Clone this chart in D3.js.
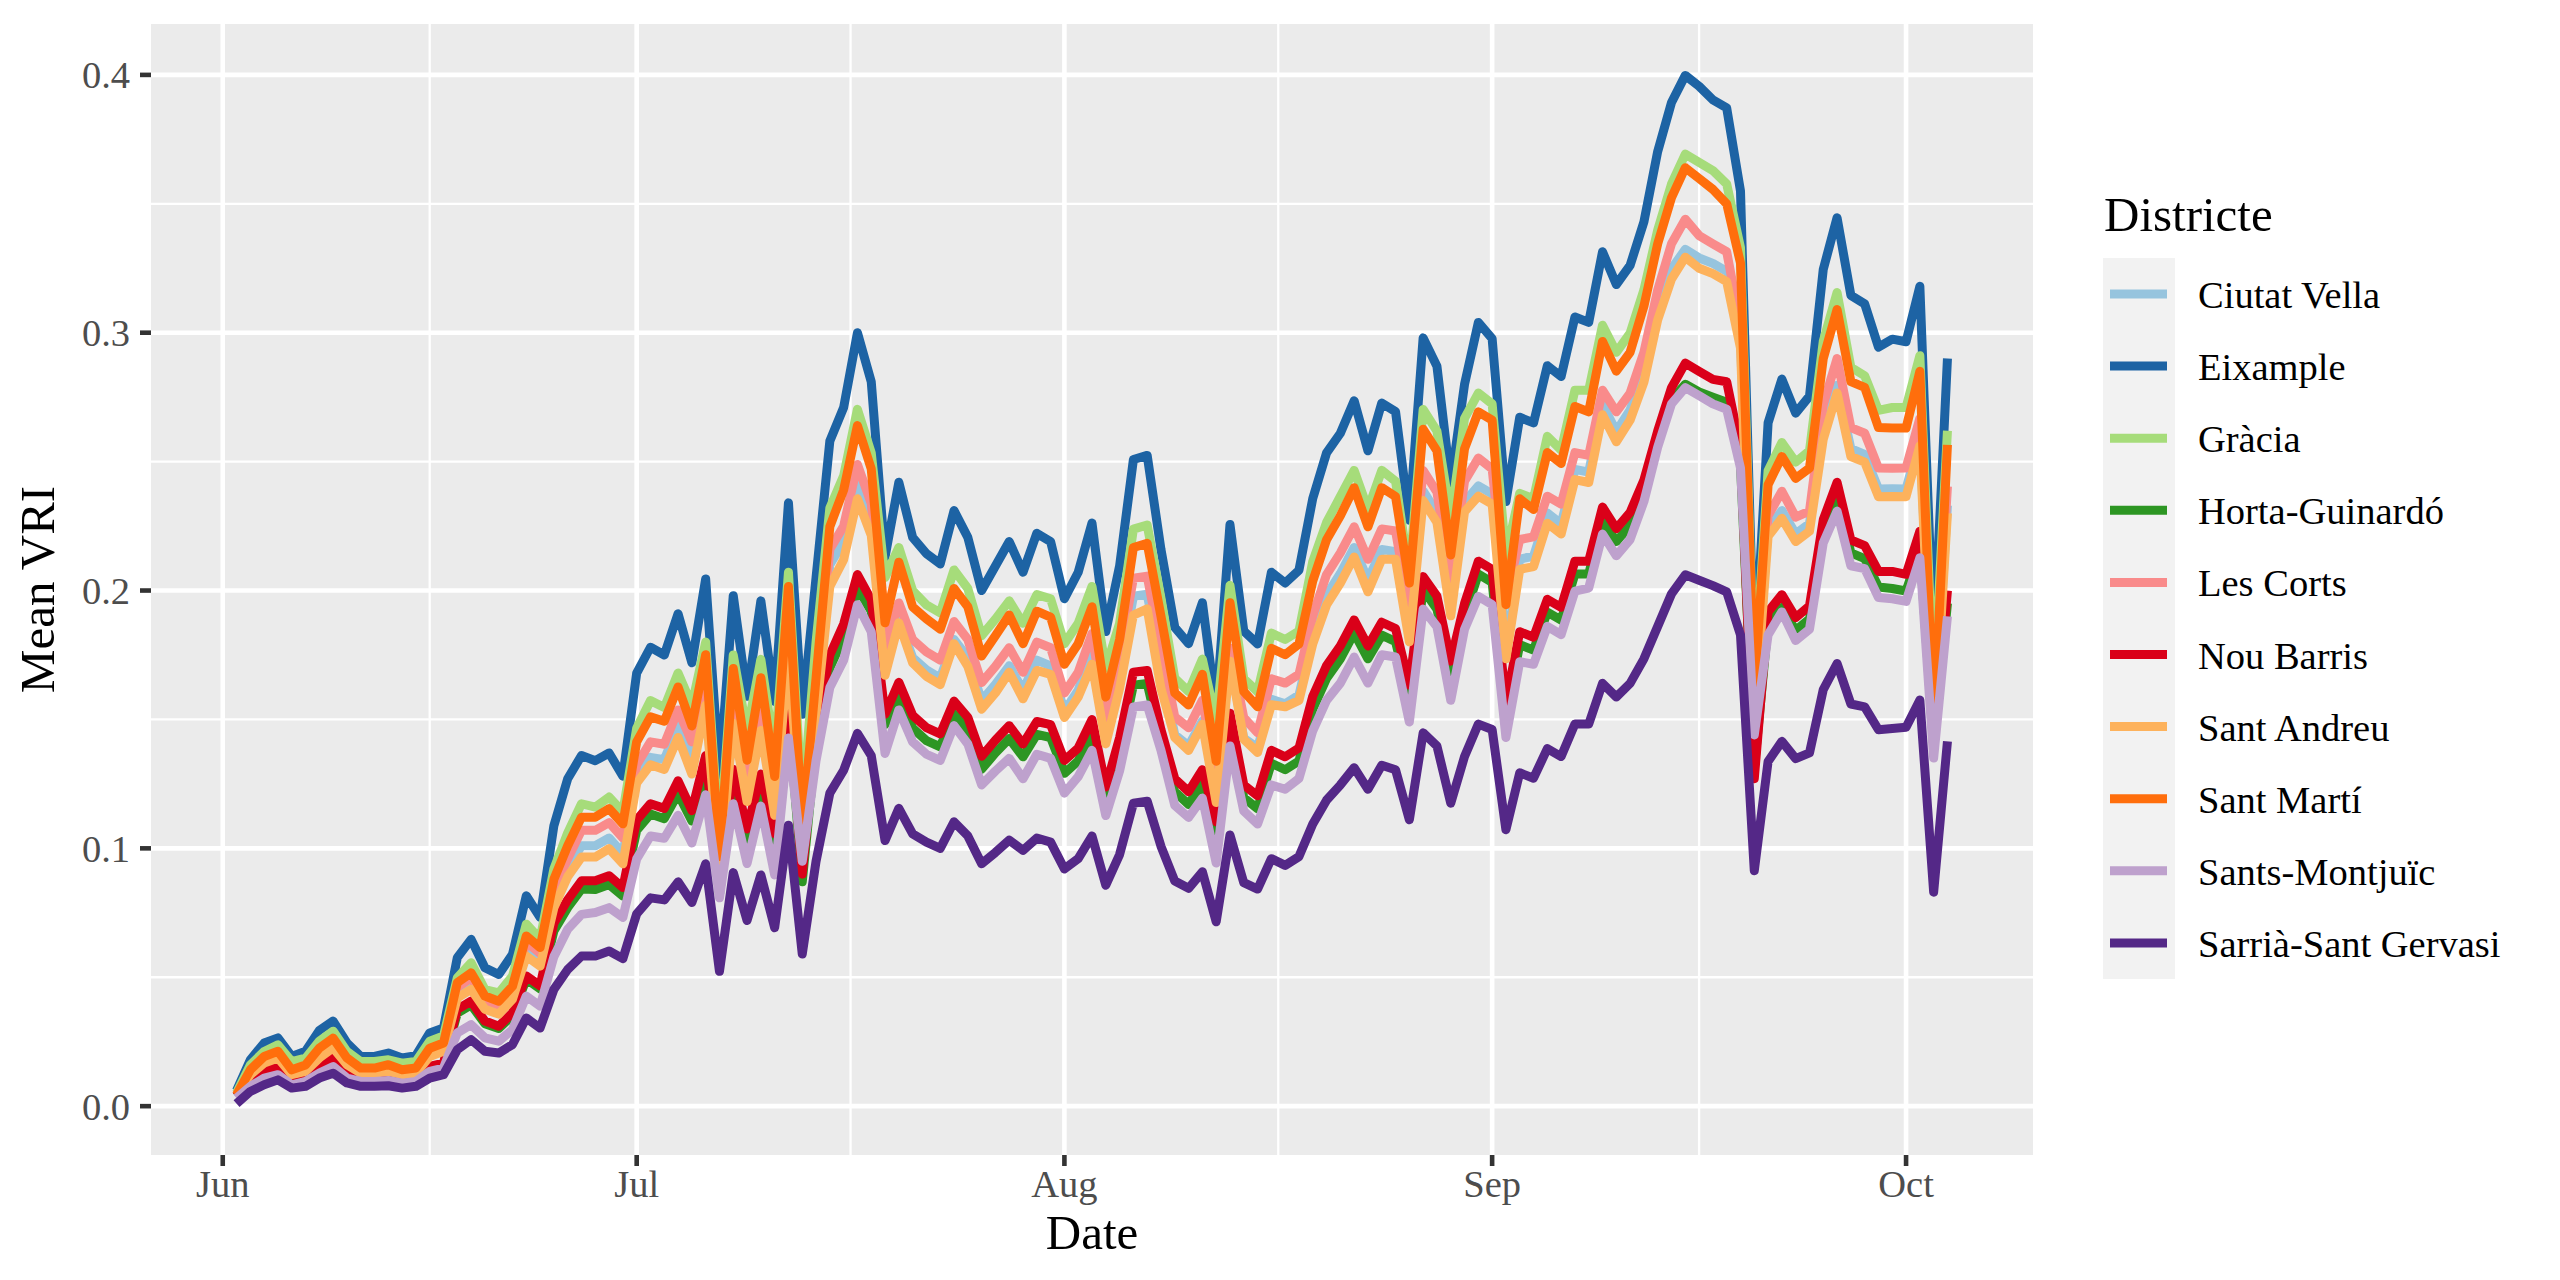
<!DOCTYPE html>
<html><head><meta charset="utf-8">
<script src="https://cdn.jsdelivr.net/npm/d3@7"></script>
<style>html,body{margin:0;padding:0;background:#fff;}svg{display:block;}</style>
</head><body>
<svg id="chart" width="2560" height="1280"></svg>
<script>
// ---- data ----
const startDate = "2021-06-02"; // first daily observation
const districts = ["Ciutat Vella","Eixample","Gràcia","Horta-Guinardó","Les Corts","Nou Barris","Sant Andreu","Sant Martí","Sants-Montjuïc","Sarrià-Sant Gervasi"];
const colors = ["#96C4DE","#1D63A4","#A6DC7A","#2D9623","#F98B8B","#DA0019","#FDB25C","#FF6E0C","#BEA1CD","#542887"];
const yTicks = [0,0.1,0.2,0.3,0.4];
const yTickLabels = ["0.0","0.1","0.2","0.3","0.4"];
const monthLabels = ["Jun","Jul","Aug","Sep","Oct"];

const ciutatVella = [.0044,.0128,.0175,.0195,.0128,.0143,.0198,.0237,.0169,.0134,.0134,.0143,.0128,.0134,.0203,.0223,.0438,.0472,.0391,.0372,.043,.0605,.0565,
.080,.092,.101,.101,.104,.098,
.1264,.1353,.1344,.1477,.1353,.158,.091,.1495,.121,.1495,.116,.181,.102,.156,.210,.219,.243,.228,.172,.189,
.174,.1692,.166,.181,.174,.1573,.1636,.1708,.1613,.173,.1708,.1533,.1613,.1763,.1422,.1676,.1978,.1986,.1708,.144,.1398,
.1494,.122,.1745,.1427,.139,.1578,.1561,.1595,.1822,.1982,.2066,.2167,.2041,.2159,.2151,.1848,.2386,.2302,.1949,.2344,
.2406,.2375,.1775,.2122,.2133,.2301,.2259,.247,.2459,.2722,.2617,.2701,.2848,.309,.3248,.3323,.329,.3269,.3238,
.297,.152,.224,.231,.222,.226,.2617,.2796,.255,.2528,.2394,.2395,.2394,.2592,.144,.233];

const eixample = [0.006,0.018,0.0245,0.0265,0.0193,0.0213,0.0294,0.033,0.0245,0.0193,0.0193,0.0206,0.0187,0.0196,0.0284,0.0303,0.0576,0.0647,0.0537,0.0511,0.0589,0.0816,0.0732,0.1088,0.127,0.136,0.134,0.137,0.128,
0.168,0.178,0.175,0.191,0.172,0.2045,0.128,0.198,0.159,0.196,0.157,0.234,0.152,0.205,0.258,0.271,0.300,0.281,0.213,0.242,
0.2206,0.2143,0.2103,0.231,0.2206,0.200,0.2095,0.219,0.2071,0.2222,0.219,0.1968,0.2071,0.2262,0.1841,0.2095,0.2508,0.2524,0.2159,0.1857,0.1794,
0.1953,0.154,0.2256,0.1843,0.1793,0.2071,0.2029,0.2079,0.2357,0.2534,0.261,0.2736,0.2542,0.2727,0.2694,0.2273,0.298,0.287,0.2416,0.280,
0.304,0.2977,0.2345,0.2672,0.265,0.2872,0.283,0.3061,0.304,0.3314,0.3187,0.3261,0.343,0.3703,0.3893,0.3998,0.3956,0.3903,0.3872,
0.355,0.17,0.265,0.282,0.2688,0.2754,0.3246,0.3446,0.3145,0.3112,0.2944,0.2975,0.2965,0.318,0.178,0.29];

const gracia = [0.0051,0.016,0.0212,0.0238,0.0173,0.0186,0.0252,0.0291,0.0212,0.0173,0.0173,0.018,0.0167,0.0173,0.0252,0.0272,0.0498,0.0556,0.0452,0.0439,0.0504,0.0706,0.0648,0.092,0.106,0.1173,0.116,0.1199,0.1141,
0.1466,0.1573,0.1546,0.168,0.1555,0.180,0.102,0.175,0.145,0.1733,0.137,0.2071,0.1164,0.180,0.232,0.2445,0.2703,0.2534,0.205,0.2167,
0.200,0.1944,0.1913,0.208,0.2008,0.1825,0.1889,0.196,0.1873,0.1984,0.1968,0.1794,0.1873,0.2016,0.1698,0.1873,0.2238,0.2254,0.197,0.166,0.1608,
0.1734,0.149,0.202,0.1658,0.1608,0.1835,0.181,0.1843,0.2113,0.2264,0.2365,0.2466,0.2315,0.2466,0.2424,0.2062,0.2702,0.2618,0.2281,0.2668,
0.2766,0.2724,0.2135,0.2377,0.2356,0.2598,0.2545,0.2777,0.2777,0.3029,0.2924,0.2998,0.3166,0.3398,0.3577,0.3693,0.3661,0.3629,0.3577,
0.333,0.165,0.2465,0.2574,0.2498,0.2542,0.2967,0.3156,0.2866,0.2833,0.2699,0.271,0.271,0.2911,0.16,0.262];

const hortaGuinardo = [.0037,.0098,.0131,.0149,.0094,.0107,.015,.0182,.0125,.0107,.0107,.0113,.01,.0107,.0151,.0164,.0361,.0393,.032,.0301,.0352,.0493,.0455,
.068,.077,.0842,.084,.086,.0815,
.107,.1133,.1115,.1212,.1106,.131,.082,.1266,.1035,.1248,.1017,.152,.087,.141,.170,.182,.201,.192,.148,.160,
.1466,.1418,.1394,.1521,.1458,.1307,.137,.1426,.1355,.1442,.143,.1291,.1339,.145,.1188,.1379,.1633,.164,.141,.122,.117,
.1255,.1053,.1474,.1196,.1154,.133,.1305,.1339,.154,.1659,.1735,.1836,.1735,.1827,.1802,.1583,.2004,.1928,.1676,.19,
.2064,.2032,.1516,.179,.1769,.1916,.1885,.2064,.2064,.2274,.219,.2253,.2379,.257,.274,.280,.277,.275,.273,
.249,.131,.187,.1934,.1845,.189,.2225,.237,.2146,.2124,.2014,.2008,.1998,.216,.14,.195];

const lesCorts = [.0044,.0135,.0185,.0205,.0135,.0152,.0214,.0253,.0179,.0142,.0142,.0153,.0135,.0142,.0215,.0235,.0461,.0498,.0412,.0392,.045,.0637,.0593,
.084,.096,.107,.107,.110,.104,
.1324,.1413,.1404,.1537,.1413,.164,.093,.1555,.127,.1555,.121,.187,.105,.16,.216,.225,.2489,.2338,.178,.1952,
.181,.1762,.173,.188,.181,.1643,.1706,.1778,.1683,.180,.1778,.1603,.1683,.1833,.1492,.1746,.2048,.2056,.1778,.151,.1468,
.1574,.128,.1776,.1507,.1448,.1658,.1641,.1675,.1902,.2062,.2146,.2247,.2121,.2239,.2231,.1928,.2466,.2382,.2029,.2424,
.2514,.2472,.1966,.2198,.2208,.2366,.2335,.2535,.2524,.2777,.2693,.2766,.2924,.3166,.3345,.344,.3377,.3345,.3314,
.303,.155,.229,.2385,.2285,.2308,.2721,.29,.2632,.261,.2475,.2474,.2475,.2668,.15,.2404];

const nouBarris = [.0038,.0102,.0135,.0154,.0096,.0109,.0154,.0187,.0128,.0109,.0109,.0115,.0102,.0109,.0154,.0167,.0375,.0407,.033,.031,.0362,.0505,.0467,
.071,.080,.0874,.0874,.0894,.0848,
.111,.1173,.1155,.1262,.1146,.136,.085,.1306,.1075,.1288,.1057,.157,.09,.145,.175,.187,.2062,.1964,.152,.1644,
.1516,.1468,.1444,.1571,.1508,.1357,.142,.1476,.1405,.1492,.148,.1341,.1389,.150,.1238,.1429,.1683,.169,.146,.127,.122,
.1305,.1103,.1524,.1246,.1204,.138,.1355,.1389,.159,.1709,.1785,.1886,.1785,.1877,.1852,.1633,.2054,.1978,.1726,.195,
.2114,.2082,.1566,.184,.1819,.1966,.1935,.2114,.2114,.2324,.224,.2303,.2429,.2619,.2787,.2882,.285,.2819,.281,
.255,.127,.1917,.1984,.1895,.194,.2275,.242,.2196,.2174,.2074,.2074,.2063,.223,.14,.2];

const santAndreu = [.0044,.0122,.0167,.0187,.0122,.0135,.0187,.0226,.0161,.0128,.0128,.0135,.0122,.0128,.0193,.0213,.042,.0453,.0376,.0357,.0415,.0582,.0543,
.077,.089,.0966,.0966,.0999,.094,
.1253,.1324,.1306,.143,.1288,.1555,.0897,.1484,.1181,.1457,.1128,.177,.10,.152,.2016,.212,.2356,.2214,.1671,.1875,
.172,.1667,.1635,.1794,.1706,.154,.1603,.1683,.158,.169,.1675,.1508,.1587,.1714,.1405,.162,.1905,.1929,.162,.143,.138,
.1481,.1178,.1726,.1423,.1372,.1557,.1549,.1574,.1793,.1944,.2029,.213,.1995,.2121,.2121,.1801,.2349,.2264,.1902,.2306,
.2366,.2335,.1735,.2082,.2093,.2261,.2219,.243,.2419,.2682,.2577,.2661,.2808,.305,.3208,.3293,.325,.3229,.3198,
.294,.149,.221,.228,.219,.223,.2587,.2766,.252,.2498,.2364,.2365,.2364,.2562,.141,.23];

const santMarti = [0.0044,0.0141,0.0193,0.0213,0.0141,0.016,0.0225,0.0264,0.0187,0.0148,0.0148,0.0161,0.0141,0.0148,0.0225,0.0245,0.0479,0.0517,0.0427,0.0407,0.0465,0.066,0.0615,0.088,0.101,0.1121,0.1121,0.1154,0.1095,
0.1413,0.151,0.1493,0.1626,0.1475,0.1751,0.0968,0.1698,0.1342,0.1662,0.1279,0.2016,0.108,0.166,0.2248,0.239,0.264,0.2472,0.1875,0.211,
0.1937,0.189,0.185,0.2008,0.1937,0.1746,0.1825,0.1905,0.1794,0.192,0.1897,0.1714,0.1794,0.1937,0.1587,0.181,0.2167,0.2183,0.190,0.1603,0.1556,
0.1675,0.1338,0.1953,0.1608,0.1549,0.1776,0.1751,0.1793,0.2037,0.2197,0.229,0.2399,0.2247,0.2399,0.2365,0.2029,0.2626,0.2542,0.2138,0.255,
0.2693,0.2661,0.1945,0.2356,0.2314,0.2535,0.2493,0.2714,0.2693,0.2966,0.2851,0.2924,0.3103,0.3345,0.3524,0.364,0.3598,0.3556,0.350,
0.327,0.1615,0.241,0.252,0.2435,0.2475,0.29,0.309,0.281,0.2788,0.2632,0.263,0.263,0.285,0.147,0.2565];

const santsMontjuic = [.0031,.0077,.0109,.0122,.0083,.0096,.0128,.0154,.0109,.0096,.0096,.01,.0089,.0096,.0135,.0148,.0284,.0316,.0265,.0252,.0297,.0427,.0388,
.058,.0686,.0744,.0751,.077,.0732,
.0959,.1048,.1039,.1128,.1021,.1208,.0808,.1173,.0941,.1164,.0897,.1428,.095,.134,.1624,.173,.1945,.184,.1368,.1537,
.1413,.1365,.1341,.1476,.1405,.1246,.130,.1349,.127,.1365,.1349,.1214,.1278,.138,.1127,.13,.1548,.1556,.138,.1167,.112,
.1195,.0943,.1397,.1145,.1094,.1246,.1229,.1271,.1456,.1574,.1641,.1742,.1641,.1751,.1742,.149,.1928,.186,.1574,.185,
.1977,.1945,.143,.1724,.1714,.1861,.1829,.1998,.2009,.2219,.2135,.2198,.2345,.2556,.2724,.2787,.2756,.2724,.2703,
.2475,.144,.1828,.1917,.1806,.185,.2185,.2308,.2096,.2085,.1973,.1968,.1958,.2127,.135,.19];

const sarria = [.001,.0057,.0083,.0102,.007,.0077,.0109,.0128,.009,.0077,.0077,.0079,.007,.0077,.0109,.0122,.0219,.0258,.0213,.0206,.0239,.0342,.0303,.0453,.053,.0582,.0582,.0602,.0572,
.0746,.0808,.080,.087,.079,.094,.0523,.0906,.072,.0897,.0692,.109,.059,.095,.1214,.1303,.1446,.136,.103,.1155,
.1056,.1024,.100,.1103,.1048,.094,.0984,.1032,.0992,.104,.1024,.092,.096,.1048,.0857,.0976,.1175,.1183,.1008,.0873,.0845,
.0909,.0715,.1052,.0867,.0842,.096,.0934,.0968,.1094,.1187,.1246,.1313,.1229,.1322,.1305,.1111,.1448,.1397,.1175,.1356,
.1482,.1461,.1072,.1293,.1272,.1387,.1356,.1482,.1482,.164,.1587,.164,.1735,.1861,.1987,.2061,.204,.2019,.1995,
.1828,.0913,.1337,.1415,.1348,.137,.1616,.1717,.156,.1549,.146,.1465,.147,.1575,.083,.1415];

const seriesValues = [ciutatVella,eixample,gracia,hortaGuinardo,lesCorts,nouBarris,santAndreu,santMarti,santsMontjuic,sarria];

// ---- layout ----
const svg = d3.select("#chart");
const L = 151, R = 2033, T = 24, B = 1155;
const FONT = "'Liberation Serif','Times New Roman',serif";

const n = d3.max(seriesValues, s => s.length);
const t0 = new Date(startDate + "T00:00:00Z");
const dates = d3.range(n).map(i => d3.utcDay.offset(t0, i));

const xSpan = dates[n-1] - dates[0];
const x = d3.scaleUtc()
  .domain([new Date(+dates[0] - 0.05*xSpan), new Date(+dates[n-1] + 0.05*xSpan)])
  .range([L, R]);
const allV = seriesValues.flat();
const vMin = d3.min(allV), vMax = d3.max(allV), vr = vMax - vMin;
const y = d3.scaleLinear().domain([vMin - 0.05*vr, vMax + 0.05*vr]).range([B, T]);

// panel
svg.append("rect").attr("x", L).attr("y", T).attr("width", R-L).attr("height", B-T).attr("fill", "#EBEBEB");

const monthTicks = monthLabels.map((m, i) => new Date(Date.UTC(2021, 5 + i, 1)));
const minorX = [];
for (let i = 0; i < monthTicks.length - 1; i++) minorX.push(new Date((+monthTicks[i] + +monthTicks[i+1]) / 2));
const minorY = [0.05, 0.15, 0.25, 0.35];

const grid = svg.append("g");
minorY.forEach(v => grid.append("line").attr("x1", L).attr("x2", R).attr("y1", y(v)).attr("y2", y(v)).attr("stroke", "#fff").attr("stroke-width", 2.3));
minorX.forEach(d => grid.append("line").attr("x1", x(d)).attr("x2", x(d)).attr("y1", T).attr("y2", B).attr("stroke", "#fff").attr("stroke-width", 2.3));
yTicks.forEach(v => grid.append("line").attr("x1", L).attr("x2", R).attr("y1", y(v)).attr("y2", y(v)).attr("stroke", "#fff").attr("stroke-width", 4.6));
monthTicks.forEach(d => grid.append("line").attr("x1", x(d)).attr("x2", x(d)).attr("y1", T).attr("y2", B).attr("stroke", "#fff").attr("stroke-width", 4.6));

// lines
const lineGen = d3.line().x((v, i) => x(dates[i])).y(v => y(v));
const lines = svg.append("g");
seriesValues.forEach((vals, k) => {
  lines.append("path").datum(vals).attr("d", lineGen)
    .attr("fill", "none").attr("stroke", colors[k]).attr("stroke-width", 9)
    .attr("stroke-linejoin", "round").attr("stroke-linecap", "butt");
});

// y axis
const yAx = svg.append("g");
yTicks.forEach((v, i) => {
  yAx.append("line").attr("x1", L - 11).attr("x2", L).attr("y1", y(v)).attr("y2", y(v)).attr("stroke", "#333333").attr("stroke-width", 4.6);
  yAx.append("text").attr("x", L - 21).attr("y", y(v)).attr("dy", "0.35em").attr("text-anchor", "end")
    .attr("font-family", FONT).attr("font-size", 38.5).attr("fill", "#4D4D4D").text(yTickLabels[i]);
});
// x axis
const xAx = svg.append("g");
monthTicks.forEach((d, i) => {
  xAx.append("line").attr("x1", x(d)).attr("x2", x(d)).attr("y1", B).attr("y2", B + 11).attr("stroke", "#333333").attr("stroke-width", 4.6);
  xAx.append("text").attr("x", x(d)).attr("y", 1197).attr("text-anchor", "middle")
    .attr("font-family", FONT).attr("font-size", 38.5).attr("fill", "#4D4D4D").text(monthLabels[i]);
});

// axis titles
svg.append("text").attr("x", (L + R) / 2).attr("y", 1249).attr("text-anchor", "middle")
  .attr("font-family", FONT).attr("font-size", 49).attr("fill", "#000").text("Date");
svg.append("text").attr("transform", `translate(54,${(T + B) / 2}) rotate(-90)`).attr("text-anchor", "middle")
  .attr("font-family", FONT).attr("font-size", 49).attr("fill", "#000").text("Mean VRI");

// legend
const lg = svg.append("g");
lg.append("text").attr("x", 2104).attr("y", 231).attr("font-family", FONT).attr("font-size", 49).attr("fill", "#000").text("Districte");
const rowH = 72.1, row0 = 294;
lg.append("rect").attr("x", 2103).attr("y", row0 - rowH/2).attr("width", 72).attr("height", rowH * districts.length).attr("fill", "#F2F2F2");
districts.forEach((name, i) => {
  const yc = row0 + i * rowH;
  lg.append("line").attr("x1", 2110).attr("x2", 2167).attr("y1", yc).attr("y2", yc).attr("stroke", colors[i]).attr("stroke-width", 9);
  lg.append("text").attr("x", 2198).attr("y", yc + 14).attr("font-family", FONT).attr("font-size", 38.5).attr("fill", "#000").text(name);
});
</script>
</body></html>
